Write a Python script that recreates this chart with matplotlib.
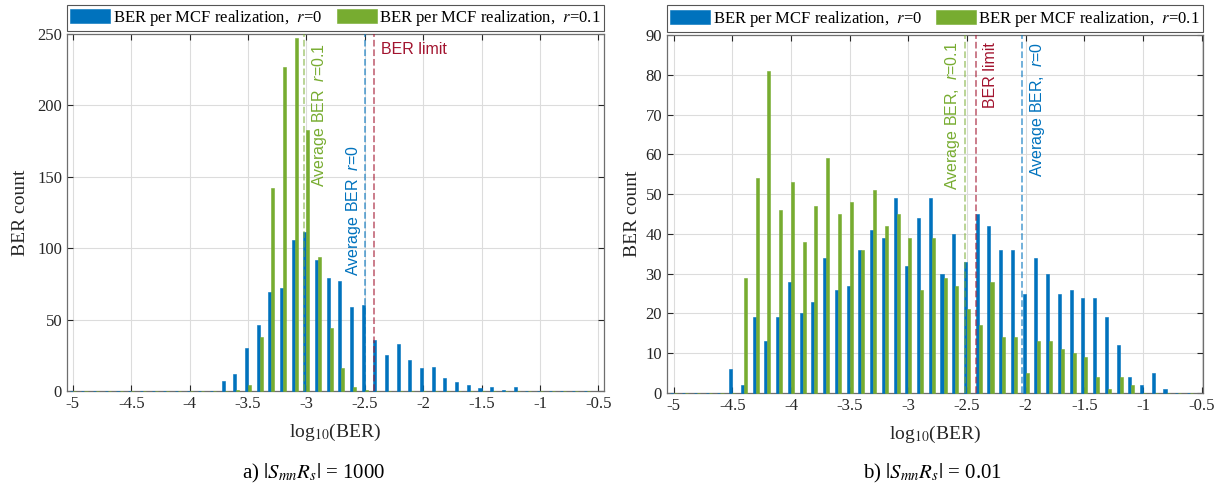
import matplotlib
matplotlib.use("Agg")
import matplotlib.pyplot as plt

plt.rcParams['axes.unicode_minus'] = False
plt.rcParams['mathtext.fontset'] = 'custom'
plt.rcParams['mathtext.rm'] = 'Liberation Sans'
plt.rcParams['mathtext.it'] = 'Liberation Sans:italic'

# histogram bins (log10 BER), same for both panels
bins = [-5.0, -4.9, -4.8, -4.7, -4.6, -4.5, -4.4, -4.3, -4.2, -4.1,
        -4.0, -3.9, -3.8, -3.7, -3.6, -3.5, -3.4, -3.3, -3.2, -3.1,
        -3.0, -2.9, -2.8, -2.7, -2.6, -2.5, -2.4, -2.3, -2.2, -2.1,
        -2.0, -1.9, -1.8, -1.7, -1.6, -1.5, -1.4, -1.3, -1.2, -1.1,
        -1.0, -0.9, -0.8, -0.7, -0.6]

# a) |S_mn R_s| = 1000
a_r0 = [0, 0, 0, 0, 0, 0, 0, 0, 0, 0,
        0, 0, 0, 7, 12, 30, 46, 69, 72, 106,
        111, 92, 79, 77, 59, 60, 36, 25, 33, 22,
        16, 17, 9, 6, 4, 2, 3, 1, 3, 0,
        0, 0, 0, 0, 0]
a_r01 = [0, 0, 0, 0, 0, 0, 0, 0, 0, 0,
         0, 0, 0, 0, 1, 4, 38, 142, 227, 247,
         183, 94, 44, 16, 3, 1, 0, 0, 0, 0,
         0, 0, 0, 0, 0, 0, 0, 0, 0, 0,
         0, 0, 0, 0, 0]
a_avg_r0, a_avg_r01 = -2.50, -3.02

# b) |S_mn R_s| = 0.01
b_r0 = [0, 0, 0, 0, 0, 6, 2, 19, 13, 19,
        28, 20, 23, 34, 26, 27, 36, 41, 39, 49,
        32, 44, 49, 30, 40, 33, 45, 42, 36, 36,
        25, 34, 30, 25, 26, 24, 24, 19, 12, 4,
        2, 5, 1, 0, 0]
b_r01 = [0, 0, 0, 0, 0, 0, 29, 54, 81, 46,
         53, 38, 47, 59, 45, 48, 36, 51, 42, 45,
         39, 26, 39, 29, 27, 21, 17, 28, 14, 14,
         5, 13, 13, 11, 10, 9, 4, 1, 4, 2,
         0, 0, 0, 0, 0]
b_avg_r0, b_avg_r01 = -2.03, -2.52

ber_limit = -2.42

blue = '#0072BD'
green = '#77AC30'
red = '#A2142F'
axcol = '#262626'
w = 0.026

fig = plt.figure(figsize=(12.22, 4.91), dpi=100)
ax1 = fig.add_axes([0.0548, 0.2037, 0.4394, 0.727])
ax2 = fig.add_axes([0.5458, 0.1996, 0.4386, 0.7291])


def draw(ax, r0, r01, ylim, yticks, xlim):
    xb = [b - w / 2 for b in bins]
    xg = [b + w / 2 for b in bins]
    ax.bar(xb, r0, width=w, color=blue, edgecolor=blue, linewidth=0.4,
           label='BER per MCF realization,  $r$=0', zorder=3, clip_on=False)
    ax.bar(xg, r01, width=w, color=green, edgecolor=green, linewidth=0.4,
           label='BER per MCF realization,  $r$=0.1', zorder=3, clip_on=False)
    ax.set_xlim(*xlim)
    ax.set_ylim(*ylim)
    ax.set_yticks(yticks)
    ax.set_xticks([-5, -4.5, -4, -3.5, -3, -2.5, -2, -1.5, -1, -0.5])
    ax.set_xticklabels(['-5', '-4.5', '-4', '-3.5', '-3', '-2.5', '-2', '-1.5', '-1', '-0.5'])
    ax.grid(True, color='#dcdcdc', linewidth=0.8, zorder=0)
    ax.set_axisbelow(True)
    ax.tick_params(direction='in', length=4, top=True, right=True,
                   labelsize=12, colors=axcol, labelfontfamily='Liberation Serif')
    for s in ax.spines.values():
        s.set_color('#6e6e6e')
        s.set_linewidth(0.9)
        s.set_zorder(2)
    ax.set_xlabel('log$_{10}$(BER)', family='Liberation Serif', fontsize=14,
                  color=axcol, labelpad=7, math_fontfamily='stix')
    ax.set_ylabel('BER count', family='Liberation Serif', fontsize=14, color=axcol)
    leg = ax.legend(loc='lower left', bbox_to_anchor=(0, 1.008, 1, 0.065), mode='expand',
                    ncol=2, borderaxespad=0, fancybox=False, framealpha=1,
                    edgecolor='#555555', handlelength=2.4, handleheight=0.85,
                    handletextpad=0.15, columnspacing=0.6, borderpad=0.2,
                    prop={'family': 'Liberation Serif', 'size': 12})
    leg.get_frame().set_linewidth(0.8)
    for t in leg.get_texts():
        t.set_math_fontfamily('stix')


draw(ax1, a_r0, a_r01, (0, 250), [0, 50, 100, 150, 200, 250], (-5.05, -0.452))
draw(ax2, b_r0, b_r01, (0, 90), list(range(0, 91, 10)), (-5.056, -0.49))
ax1.yaxis.labelpad = 6
ax2.yaxis.labelpad = 3

# reference lines, panel a
ax1.axvline(a_avg_r01, color=green, ls='--', lw=1.3, alpha=0.55, zorder=4)
ax1.axvline(a_avg_r0, color=blue, ls='--', lw=1.3, alpha=0.6, zorder=4)
ax1.axvline(ber_limit, color=red, ls='--', lw=1.3, alpha=0.6, zorder=4)
ax1.text(-2.89, 244, 'Average BER  $r$=0.1', rotation=90, color=green,
         fontsize=11.5, family='Liberation Sans', ha='center', va='top')
ax1.text(-2.60, 172, 'Average BER  $r$=0', rotation=90, color=blue,
         fontsize=11.5, family='Liberation Sans', ha='center', va='top')
ax1.text(-2.36, 239.5, 'BER limit', color=red, fontsize=11.5,
         family='Liberation Sans', ha='left', va='center')

# reference lines, panel b
ax2.axvline(b_avg_r01, color=green, ls='--', lw=1.3, alpha=0.55, zorder=4)
ax2.axvline(b_avg_r0, color=blue, ls='--', lw=1.3, alpha=0.6, zorder=4)
ax2.axvline(ber_limit, color=red, ls='--', lw=1.3, alpha=0.6, zorder=4)
ax2.text(-2.62, 88.3, 'Average BER,  $r$=0.1', rotation=90, color=green,
         fontsize=11.5, family='Liberation Sans', ha='center', va='top')
ax2.text(-2.30, 88.3, 'BER limit', rotation=90, color=red,
         fontsize=11.5, family='Liberation Sans', ha='center', va='top')
ax2.text(-1.90, 88.3, 'Average BER,  $r$=0', rotation=90, color=blue,
         fontsize=11.5, family='Liberation Sans', ha='center', va='top')

# captions
fig.text(0.257, 0.035, 'a) $|S_{mn}R_s|$ = 1000', ha='center', va='center',
         fontsize=15, family='Liberation Serif', math_fontfamily='stix', color='black')
fig.text(0.763, 0.035, 'b) $|S_{mn}R_s|$ = 0.01', ha='center', va='center',
         fontsize=15, family='Liberation Serif', math_fontfamily='stix', color='black')

fig.savefig('out.png', dpi=100)
